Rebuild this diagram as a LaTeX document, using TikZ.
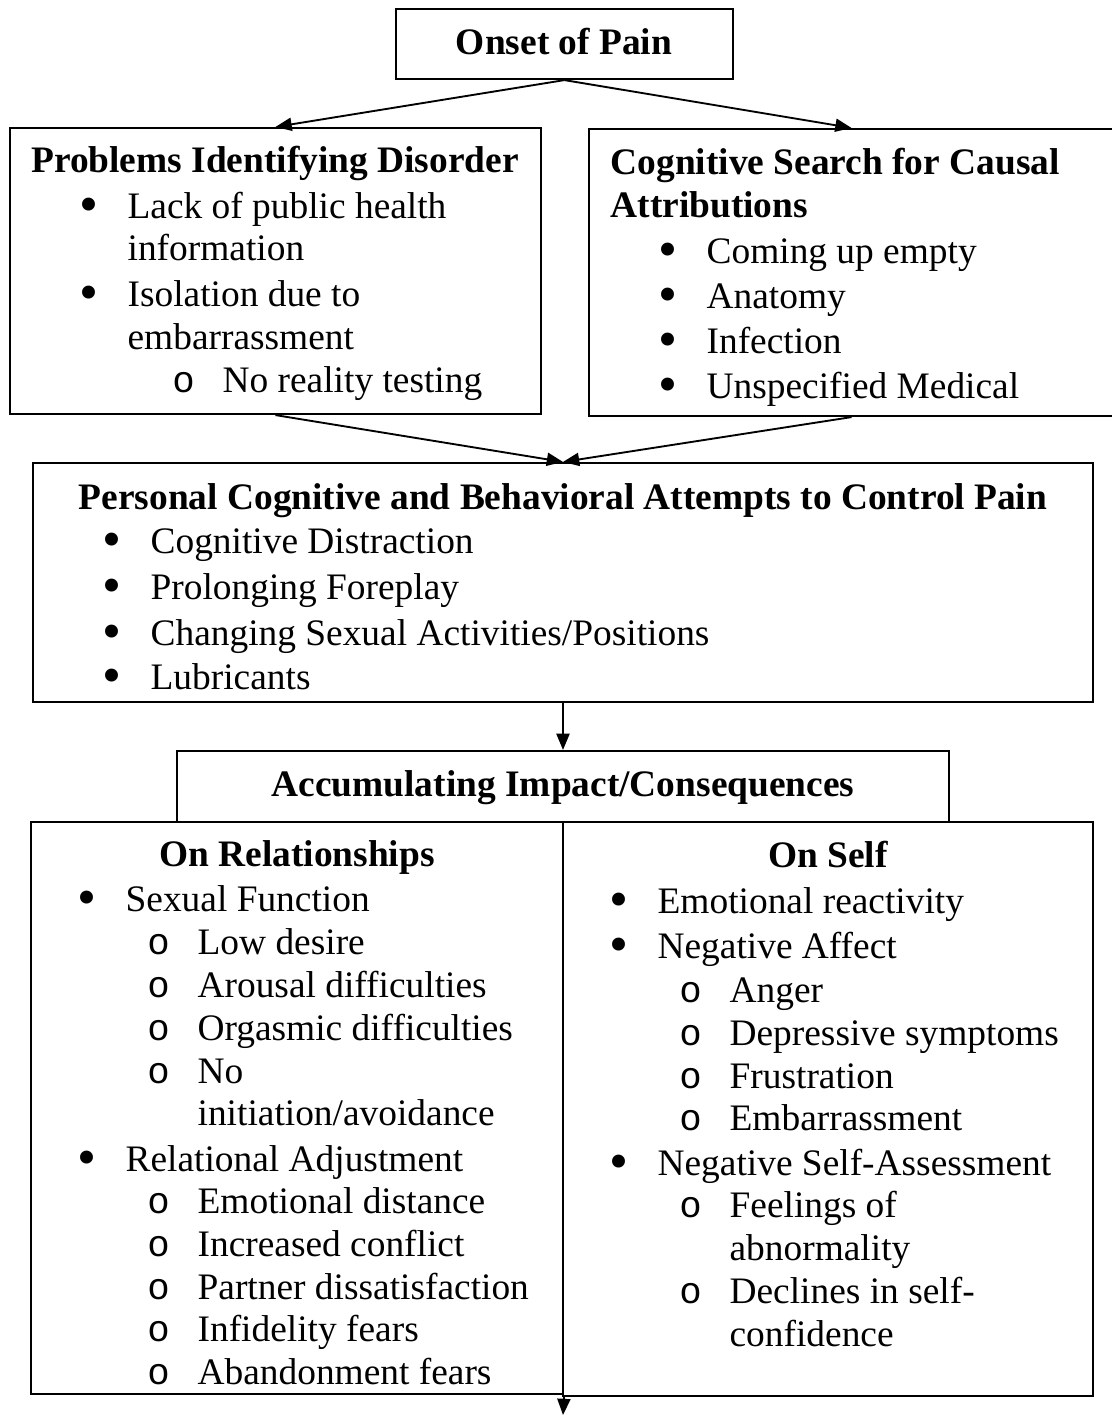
\documentclass[tikz,border=0pt]{standalone}
\usepackage{fontspec}
\setmainfont{Liberation Serif}
\setmonofont{Liberation Mono}
\usetikzlibrary{arrows.meta,fit}
\newcommand\bul{\llap{\makebox[25pt]{\raisebox{-0.13em}{\scalebox{1.45}{\textbullet}}}}}
\newcommand\subbul{\llap{\makebox[25pt]{\texttt{o}}}}

\begin{document}
\begin{tikzpicture}[x=0.3209pt,y=-0.3209pt,
    box/.style={draw, line width=0.7pt, inner sep=0pt},
    arr/.style={line width=0.6pt, -{Triangle[length=5.2pt,width=4.2pt]}},
    txt/.style={anchor=base west, inner sep=0pt, font=\fontsize{12}{14}\selectfont},
    ttl/.style={anchor=base, inner sep=0pt, font=\fontsize{12}{14}\selectfont\bfseries}]
        \useasboundingbox (0,0) rectangle (1111,1415);

        % boxes
        \node[box, fit={(396,9) (733,79)}] (onset) {};
        \node[box, fit={(10,128) (541,414)}] (prob) {};
        \node[box, fit={(589,129) (1114,416)}] (cause) {};
        \node[box, fit={(33,463) (1093,702)}] (ctrl) {};
        \node[box, fit={(177,751) (949,822)}] (accum) {};
        \node[box, fit={(31,822) (563,1394)}] (rel) {};
        \node[box, fit={(563,822) (1093,1396)}] (self) {};
        \coordinate (out) at (563,1415);

        % connectors
        \draw[arr] (onset.south) -- (prob.north);
        \draw[arr] (onset.south) -- (cause.north);
        \draw[arr] (prob.south) -- (ctrl.north);
        \draw[arr] (cause.south) -- (ctrl.north);
        \draw[arr] (ctrl.south) -- (accum.north);
        \draw[arr] (rel.south east) -- (out);

        % onset
        \node[ttl] (t0) at (564,54) {Onset of Pain};

        % problems identifying disorder
        \node[ttl] (t1) at (275,172) {Problems Identifying Disorder};
        \node[txt] (p1) at (127,218) {\bul Lack of public health};
        \node[txt] (p2) at (127,260) {information};
        \node[txt] (p3) at (127,306) {\bul Isolation due to};
        \node[txt] (p4) at (127,349) {embarrassment};
        \node[txt] (p5) at (222,392) {\subbul No reality testing};

        % causal attributions
        \node[ttl, anchor=base west] (t2) at (610,174) {Cognitive Search for Causal};
        \node[ttl, anchor=base west] (t2b) at (610,217) {Attributions};
        \node[txt] (c1) at (706,263) {\bul Coming up empty};
        \node[txt] (c2) at (706,308) {\bul Anatomy};
        \node[txt] (c3) at (706,353) {\bul Infection};
        \node[txt] (c4) at (706,398) {\bul Unspecified Medical};

        % attempts to control pain
        \node[ttl] (t3) at (563,509) {Personal Cognitive and Behavioral Attempts to Control Pain};
        \node[txt] (a1) at (150,553) {\bul Cognitive Distraction};
        \node[txt] (a2) at (150,599) {\bul Prolonging Foreplay};
        \node[txt] (a3) at (150,645) {\bul Changing Sexual Activities/Positions};
        \node[txt] (a4) at (150,689) {\bul Lubricants};

        % consequences
        \node[ttl] (t4) at (563,796) {Accumulating Impact/Consequences};

        % on relationships
        \node[ttl] (t5) at (297,866) {On Relationships};
        \node[txt] (r1) at (125,911) {\bul Sexual Function};
        \node[txt] (r2) at (197,954) {\subbul Low desire};
        \node[txt] (r3) at (197,997) {\subbul Arousal difficulties};
        \node[txt] (r4) at (197,1040) {\subbul Orgasmic difficulties};
        \node[txt] (r5) at (197,1083) {\subbul No};
        \node[txt] (r6) at (197,1125) {initiation/avoidance};
        \node[txt] (r7) at (125,1171) {\bul Relational Adjustment};
        \node[txt] (r8) at (197,1213) {\subbul Emotional distance};
        \node[txt] (r9) at (197,1256) {\subbul Increased conflict};
        \node[txt] (r10) at (197,1299) {\subbul Partner dissatisfaction};
        \node[txt] (r11) at (197,1341) {\subbul Infidelity fears};
        \node[txt] (r12) at (197,1384) {\subbul Abandonment fears};

        % on self
        \node[ttl] (t6) at (828,867) {On Self};
        \node[txt] (s1) at (657,913) {\bul Emotional reactivity};
        \node[txt] (s2) at (657,958) {\bul Negative Affect};
        \node[txt] (s3) at (729,1002) {\subbul Anger};
        \node[txt] (s4) at (729,1045) {\subbul Depressive symptoms};
        \node[txt] (s5) at (729,1088) {\subbul Frustration};
        \node[txt] (s6) at (729,1130) {\subbul Embarrassment};
        \node[txt] (s7) at (657,1175) {\bul Negative Self-Assessment};
        \node[txt] (s8) at (729,1217) {\subbul Feelings of};
        \node[txt] (s9) at (729,1260) {abnormality};
        \node[txt] (s10) at (729,1303) {\subbul Declines in self-};
        \node[txt] (s11) at (729,1346) {confidence};
    \end{tikzpicture}
\end{document}
